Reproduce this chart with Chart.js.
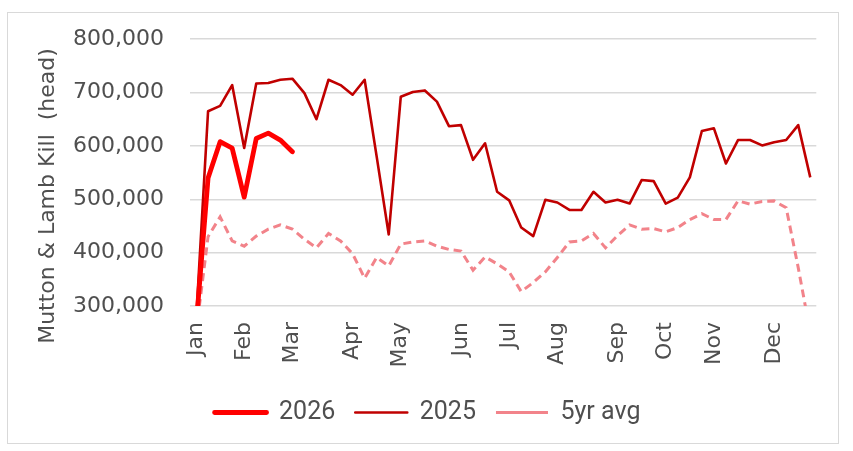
<!DOCTYPE html>
<html>
<head>
<meta charset="utf-8">
<script src="https://cdn.jsdelivr.net/npm/chart.js@4.4.1/dist/chart.umd.min.js"></script>
<style>
  html, body { margin: 0; padding: 0; background: #ffffff; }
  #wrap { position: relative; width: 853px; height: 451px; }
  #frame { position: absolute; left: 7px; top: 12px; width: 832px; height: 432px; box-sizing: border-box; border: 1.5px solid #d9d9d9; pointer-events: none; }
  canvas { position: absolute; left: 0; top: 0; }
</style>
</head>
<body>
<div id="wrap">
  <div id="frame"></div>
  <canvas id="c" width="853" height="451"></canvas>
</div>
<script>
// ---- data ----
const monthNames = ["Jan","Feb","Mar","Apr","May","Jun","Jul","Aug","Sep","Oct","Nov","Dec"];
const monthStartWeek = [0, 4, 8, 13, 17, 22, 26, 30, 35, 39, 43, 48];
const weekCount = 52;
const yTitle = "Mutton & Lamb Kill  (head)";

const kill2026 = [260000, 540000, 608000, 596000, 504000, 614000, 624000, 611000, 589000];

const kill2025 = [270000, 665000, 675000, 714000, 596000, 717000, 718000, 724000, 726000, 699000,
                  650000, 724000, 714000, 696000, 724000, 580000, 434000, 692000, 701000, 704000,
                  683000, 637000, 639000, 574000, 605000, 514000, 498000, 447000, 431000, 499000,
                  494000, 480000, 480000, 514000, 494000, 499000, 492000, 536000, 534000, 492000,
                  503000, 541000, 628000, 633000, 567000, 611000, 611000, 601000, 607000, 611000,
                  639000, 541000];

const kill5yr = [250000, 430000, 467000, 422000, 412000, 431000, 444000, 452000, 444000, 425000,
                 409000, 436000, 422000, 398000, 352000, 391000, 375000, 416000, 420000, 422000,
                 412000, 406000, 403000, 367000, 392000, 379000, 364000, 327000, 344000, 364000,
                 391000, 420000, 422000, 436000, 409000, 432000, 452000, 444000, 445000, 439000,
                 447000, 462000, 473000, 462000, 462000, 497000, 491000, 496000, 497000, 484000,
                 372000, 250000];

// category labels: month name at the week a month starts, blank otherwise
const weekLabels = [];
for (let i = 0; i < weekCount; i++) {
  const m = monthStartWeek.indexOf(i);
  weekLabels.push(m >= 0 ? monthNames[m] : "");
}

const textColor = "#4f4f4f";
const axisFont = { family: "DejaVu Sans", size: 22 };

const yTitlePlugin = {
  id: "yTitle",
  afterDraw(chart) {
    const ctx = chart.ctx;
    ctx.save();
    ctx.translate(48, 196);
    ctx.rotate(-Math.PI / 2);
    ctx.font = '22px "DejaVu Sans"';
    ctx.fillStyle = textColor;
    ctx.textAlign = "center";
    ctx.textBaseline = "middle";
    ctx.fillText(yTitle, 0, 0);
    ctx.restore();
  }
};

new Chart(document.getElementById("c"), {
  type: "line",
  data: {
    labels: weekLabels,
    datasets: [
      { label: "2026", data: kill2026, borderColor: "#ff0000", backgroundColor: "#ff0000",
        borderWidth: 4.8, borderCapStyle: "round", borderJoinStyle: "round", pointRadius: 0, tension: 0 },
      { label: "2025", data: kill2025, borderColor: "#c00000", backgroundColor: "#c00000",
        borderWidth: 2.6, borderJoinStyle: "round", pointRadius: 0, tension: 0 },
      { label: "5yr avg", data: kill5yr, borderColor: "#f2838a", backgroundColor: "#f2838a",
        borderWidth: 3, borderDash: [8, 5], pointRadius: 0, tension: 0 }
    ]
  },
  options: {
    responsive: false,
    animation: false,
    layout: { padding: { left: 37, right: 35, top: 38, bottom: 16 } },
    scales: {
      x: {
        type: "category",
        offset: true,
        grid: { display: false, drawTicks: false },
        border: { display: false },
        ticks: { autoSkip: false, minRotation: 90, maxRotation: 90, padding: 16, color: textColor, font: axisFont },
        afterFit(s) { s.height = 74; }
      },
      y: {
        min: 300000, max: 800000,
        grid: { color: "#d9d9d9", lineWidth: 1.5, drawTicks: false },
        border: { display: false },
        ticks: { stepSize: 100000, padding: 26, color: textColor, font: axisFont,
                 callback: v => v.toLocaleString("en-US") },
        afterFit(s) { s.width = 153; }
      }
    },
    plugins: {
      legend: {
        position: "bottom",
        labels: { boxWidth: 52, boxHeight: 0, padding: 20, color: textColor,
                  font: { family: "Roboto", size: 25 } }
      },
      tooltip: { enabled: false }
    }
  },
  plugins: [yTitlePlugin]
});
</script>
</body>
</html>
